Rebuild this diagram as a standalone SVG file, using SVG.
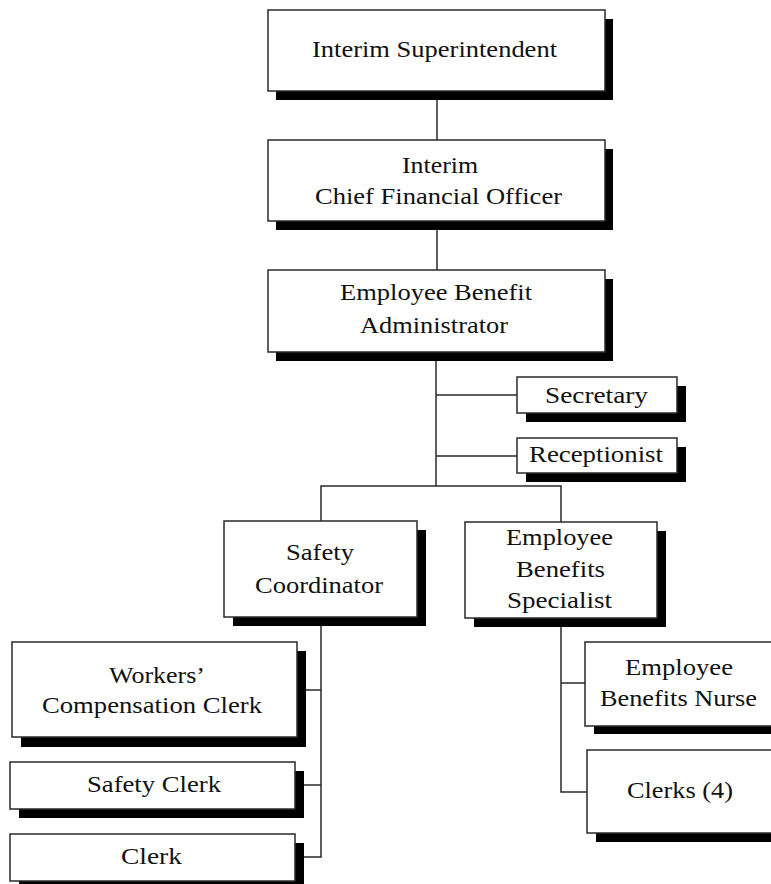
<svg xmlns="http://www.w3.org/2000/svg" width="771" height="884" viewBox="0 0 771 884">
  <style>
    .shadow { fill: #000; }
    .box { fill: #fff; stroke: #2a2a2a; stroke-width: 1.5; }
    .lbl { font-family: "Liberation Serif", "Times New Roman", serif; font-size: 24px; fill: #111; text-anchor: middle; }
    .wire { fill: none; stroke: #2a2a2a; stroke-width: 1.5; }
  </style>
  <rect width="771" height="884" fill="#fff"/>

  <!-- connectors -->
  <g id="connectors">
    <path class="wire" d="M437 91 V140"/>
    <path class="wire" d="M437 221 V270"/>
    <path class="wire" d="M436 352 V486"/>
    <path class="wire" d="M436 395 H517"/>
    <path class="wire" d="M436 456 H517"/>
    <path class="wire" d="M321 521 V486 H561 V522"/>
    <path class="wire" d="M321 617 V857 H295"/>
    <path class="wire" d="M321 690 H297"/>
    <path class="wire" d="M321 785 H295"/>
    <path class="wire" d="M561 618 V792 H587"/>
    <path class="wire" d="M561 683 H585"/>
  </g>

  <g id="superintendent">
    <rect class="shadow" x="276" y="19" width="337" height="81"/>
    <rect class="box" x="268" y="10" width="337" height="81"/>
    <text class="lbl" x="434.5" y="57" textLength="245" lengthAdjust="spacingAndGlyphs">Interim Superintendent</text>
  </g>

  <g id="cfo">
    <rect class="shadow" x="276" y="149" width="337" height="81"/>
    <rect class="box" x="268" y="140" width="337" height="81"/>
    <text class="lbl" x="440" y="173" textLength="76" lengthAdjust="spacingAndGlyphs">Interim</text>
    <text class="lbl" x="438.5" y="204" textLength="247" lengthAdjust="spacingAndGlyphs">Chief Financial Officer</text>
  </g>

  <g id="administrator">
    <rect class="shadow" x="276" y="279" width="337" height="82"/>
    <rect class="box" x="268" y="270" width="337" height="82"/>
    <text class="lbl" x="436" y="300" textLength="192" lengthAdjust="spacingAndGlyphs">Employee Benefit</text>
    <text class="lbl" x="434" y="333" textLength="148" lengthAdjust="spacingAndGlyphs">Administrator</text>
  </g>

  <g id="secretary">
    <rect class="shadow" x="526" y="386" width="160" height="36"/>
    <rect class="box" x="517" y="377" width="160" height="36"/>
    <text class="lbl" x="596.5" y="403" textLength="103" lengthAdjust="spacingAndGlyphs">Secretary</text>
  </g>

  <g id="receptionist">
    <rect class="shadow" x="526" y="447" width="160" height="35"/>
    <rect class="box" x="517" y="438" width="160" height="35"/>
    <text class="lbl" x="596" y="462" textLength="134" lengthAdjust="spacingAndGlyphs">Receptionist</text>
  </g>

  <g id="safety-coordinator">
    <rect class="shadow" x="233" y="530" width="193" height="96"/>
    <rect class="box" x="224" y="521" width="193" height="96"/>
    <text class="lbl" x="320" y="560" textLength="68" lengthAdjust="spacingAndGlyphs">Safety</text>
    <text class="lbl" x="319" y="593" textLength="128" lengthAdjust="spacingAndGlyphs">Coordinator</text>
  </g>

  <g id="benefits-specialist">
    <rect class="shadow" x="474" y="531" width="192" height="96"/>
    <rect class="box" x="465" y="522" width="192" height="96"/>
    <text class="lbl" x="559.5" y="545" textLength="107" lengthAdjust="spacingAndGlyphs">Employee</text>
    <text class="lbl" x="560.5" y="577" textLength="89" lengthAdjust="spacingAndGlyphs">Benefits</text>
    <text class="lbl" x="559.5" y="608" textLength="105" lengthAdjust="spacingAndGlyphs">Specialist</text>
  </g>

  <g id="workers-comp-clerk">
    <rect class="shadow" x="21" y="651" width="285" height="96"/>
    <rect class="box" x="12" y="642" width="285" height="95"/>
    <text class="lbl" x="157" y="683" textLength="96" lengthAdjust="spacingAndGlyphs">Workers’</text>
    <text class="lbl" x="152" y="713" textLength="220" lengthAdjust="spacingAndGlyphs">Compensation Clerk</text>
  </g>

  <g id="safety-clerk">
    <rect class="shadow" x="19" y="771" width="285" height="47"/>
    <rect class="box" x="10" y="762" width="285" height="47"/>
    <text class="lbl" x="154" y="792" textLength="134" lengthAdjust="spacingAndGlyphs">Safety Clerk</text>
  </g>

  <g id="clerk">
    <rect class="shadow" x="19" y="843" width="285" height="47"/>
    <rect class="box" x="10" y="834" width="285" height="47"/>
    <text class="lbl" x="151.5" y="864" textLength="61" lengthAdjust="spacingAndGlyphs">Clerk</text>
  </g>

  <g id="benefits-nurse">
    <rect class="shadow" x="594" y="651" width="200" height="83"/>
    <rect class="box" x="585" y="642" width="200" height="84"/>
    <text class="lbl" x="679" y="675" textLength="108" lengthAdjust="spacingAndGlyphs">Employee</text>
    <text class="lbl" x="678.5" y="706" textLength="157" lengthAdjust="spacingAndGlyphs">Benefits Nurse</text>
  </g>

  <g id="clerks-4">
    <rect class="shadow" x="596" y="759" width="200" height="83"/>
    <rect class="box" x="587" y="750" width="200" height="83"/>
    <text class="lbl" x="680" y="798" textLength="106" lengthAdjust="spacingAndGlyphs">Clerks (4)</text>
  </g>
</svg>
